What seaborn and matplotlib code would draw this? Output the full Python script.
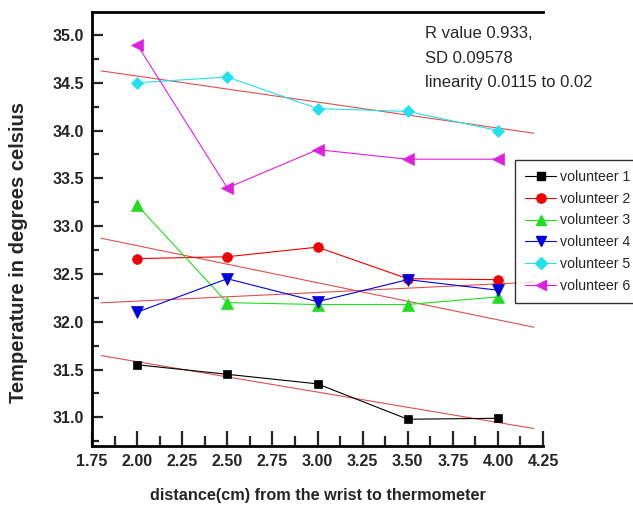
import numpy as np
import pandas as pd
import matplotlib
matplotlib.use("Agg")
import matplotlib.pyplot as plt
from matplotlib.ticker import MultipleLocator, FormatStrFormatter
import seaborn as sns

# Skin temperature readings at increasing distance from the wrist
distance = [2.0, 2.5, 3.0, 3.5, 4.0]
volunteer_1 = [31.55, 31.45, 31.35, 30.98, 30.99]
volunteer_2 = [32.66, 32.68, 32.78, 32.45, 32.44]
volunteer_3 = [33.22, 32.20, 32.18, 32.18, 32.26]
volunteer_4 = [32.10, 32.45, 32.21, 32.44, 32.33]
volunteer_5 = [34.50, 34.56, 34.23, 34.20, 34.00]
volunteer_6 = [34.90, 33.40, 33.80, 33.70, 33.70]

names = ["volunteer 1", "volunteer 2", "volunteer 3",
         "volunteer 4", "volunteer 5", "volunteer 6"]
series = [volunteer_1, volunteer_2, volunteer_3,
          volunteer_4, volunteer_5, volunteer_6]
# volunteers that get a least-squares trend line
fitted = ["volunteer 1", "volunteer 3", "volunteer 4", "volunteer 5"]

stats_text = "R value 0.933,\nSD 0.09578\nlinearity 0.0115 to 0.02"

colors = {"volunteer 1": "#000000", "volunteer 2": "#ee0000",
          "volunteer 3": "#22dd22", "volunteer 4": "#0000dd",
          "volunteer 5": "#22e0ee", "volunteer 6": "#e020e0"}
markers = {"volunteer 1": "s", "volunteer 2": "o", "volunteer 3": "^",
           "volunteer 4": "v", "volunteer 5": "D", "volunteer 6": "<"}
msizes = {"volunteer 1": 6, "volunteer 2": 7, "volunteer 3": 8,
          "volunteer 4": 8, "volunteer 5": 6.5, "volunteer 6": 8}

df = pd.DataFrame({
    "distance": np.tile(distance, len(names)),
    "temperature": np.concatenate(series),
    "volunteer": np.repeat(names, len(distance)),
})

sns.set_style("ticks")
plt.rcParams["font.family"] = ["Liberation Sans", "DejaVu Sans"]

fig = plt.figure(figsize=(6.33, 5.14), dpi=100)
ax = fig.add_axes([92 / 633, 1 - 446 / 514, 451 / 633, 434 / 514])

sns.lineplot(data=df, x="distance", y="temperature", hue="volunteer",
             style="volunteer", palette=colors, markers=markers,
             dashes=False, linewidth=0.8, ax=ax, legend=False)

# per-series marker sizes, edges matching the fill
for line, name in zip(ax.lines, names):
    line.set_markersize(msizes[name])
    line.set_markeredgecolor(colors[name])
    line.set_markeredgewidth(0.5)

# linear trend lines
xfit = np.array([1.8, 4.2])
for name, vals in zip(names, series):
    if name in fitted:
        slope, intercept = np.polyfit(distance, vals, 1)
        ax.plot(xfit, slope * xfit + intercept, color="#dd5050",
                linewidth=0.8, zorder=1)

ax.set_xlim(1.75, 4.25)
ax.set_ylim(30.7, 35.24)
ax.xaxis.set_major_locator(MultipleLocator(0.25))
ax.xaxis.set_minor_locator(MultipleLocator(0.125))
ax.yaxis.set_major_locator(MultipleLocator(0.5))
ax.yaxis.set_minor_locator(MultipleLocator(0.25))
ax.xaxis.set_major_formatter(FormatStrFormatter("%.2f"))
ax.yaxis.set_major_formatter(FormatStrFormatter("%.1f"))

ax.tick_params(axis="x", which="major", direction="in", length=11, width=1.6,
               labelsize=11.5, pad=6)
ax.tick_params(axis="x", which="minor", direction="in", length=7, width=1.6)
ax.tick_params(axis="y", which="major", direction="in", length=8, width=1.6,
               labelsize=11.5, pad=6)
ax.tick_params(axis="y", which="minor", direction="in", length=5, width=1.6)
for lbl in ax.get_xticklabels() + ax.get_yticklabels():
    lbl.set_fontweight("bold")

for side in ["left", "top", "bottom"]:
    ax.spines[side].set_linewidth(2)
    ax.spines[side].set_color("black")
ax.spines["right"].set_visible(False)

ax.set_xlabel("distance(cm) from the wrist to thermometer",
              fontsize=11.7, fontweight="bold")
ax.set_ylabel("Temperature in degrees celsius", fontsize=14.5,
              fontweight="bold")
ax.xaxis.set_label_coords(0.5, -0.097)
ax.yaxis.set_label_coords(-0.142, 0.445)

fig.text(425 / 633, 1 - 26 / 514, stats_text, fontsize=12, va="top",
         ha="left", linespacing=1.8)

handles = [plt.Line2D([], [], color=colors[n], marker=markers[n],
                      markersize=msizes[n] * 0.95, linewidth=0.8,
                      markeredgecolor=colors[n]) for n in names]
leg = fig.legend(handles, names, loc="upper left",
                 bbox_to_anchor=(515 / 633, 1 - 160 / 514),
                 frameon=True, fancybox=False, fontsize=10.2,
                 handlelength=2.2, handletextpad=0.3, borderpad=0.7,
                 labelspacing=0.55, borderaxespad=0)
leg.get_frame().set_edgecolor("black")
leg.get_frame().set_linewidth(1.0)

fig.savefig("out.png", dpi=100)
